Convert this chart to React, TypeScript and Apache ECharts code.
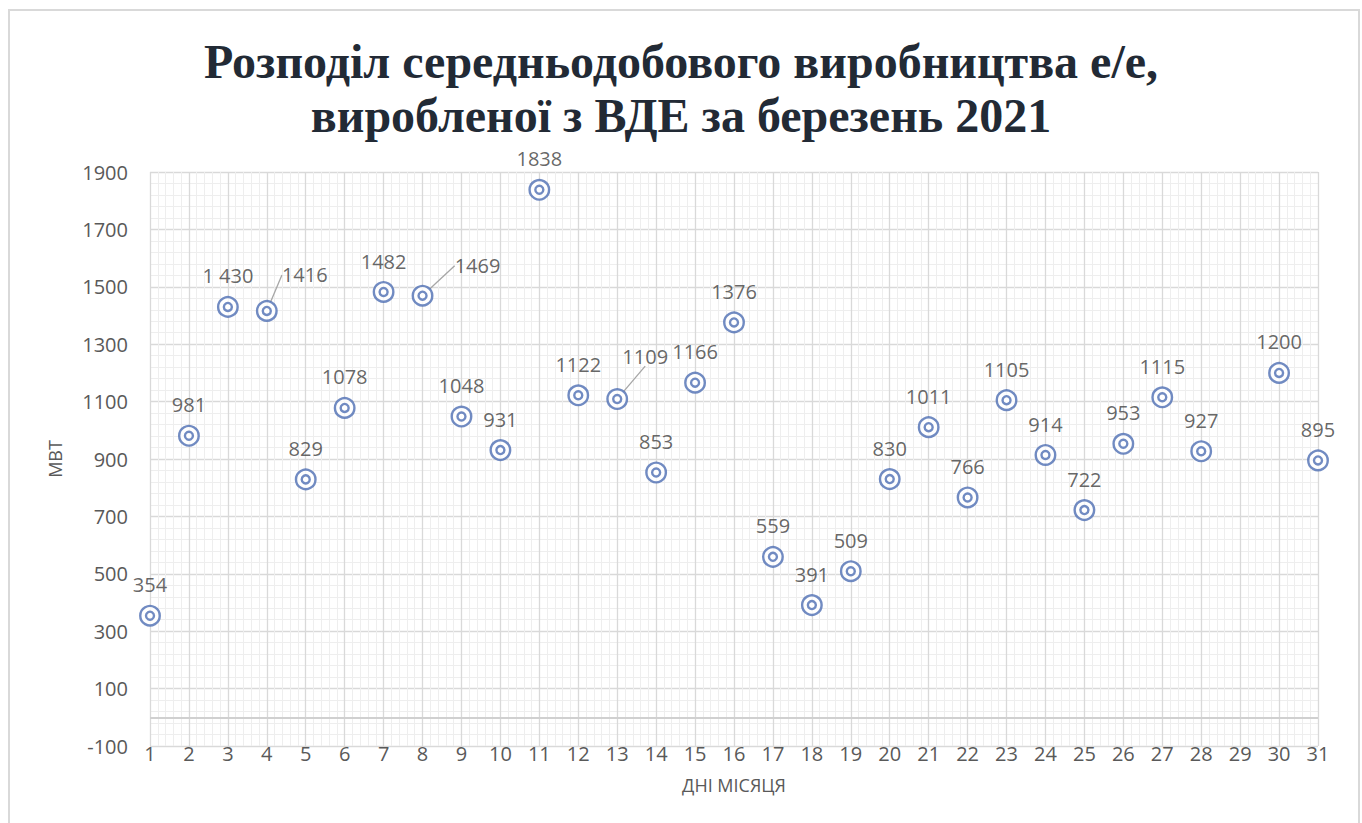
import React, { useEffect, useRef } from "react";
import * as echarts from "echarts";

const days = [1, 2, 3, 4, 5, 6, 7, 8, 9, 10, 11, 12, 13, 14, 15, 16, 17, 18, 19, 20, 21, 22, 23, 24, 25, 26, 27, 28, 30, 31];
const values = [354, 981, 1430, 1416, 829, 1078, 1482, 1469, 1048, 931, 1838, 1122, 1109, 853, 1166, 1376, 559, 391, 509, 830, 1011, 766, 1105, 914, 722, 953, 1115, 927, 1200, 895];
const labelTexts = ["354", "981", "1 430", "1416", "829", "1078", "1482", "1469", "1048", "931", "1838", "1122", "1109", "853", "1166", "1376", "559", "391", "509", "830", "1011", "766", "1105", "914", "722", "953", "1115", "927", "1200", "895"];
const titleText = "Розподіл середньодобового виробництва е/е,\nвиробленої з ВДЕ за березень 2021";
const xName = "ДНІ МІСЯЦЯ";
const yName = "МВТ";
const xMin = 1, xMax = 31, yMin = -100, yMax = 1900, yStep = 200;

const BLUE = "#4D6EB3";
const FONT = "'Open Sans', sans-serif";

export default function App() {
  const ref = useRef<HTMLDivElement>(null);
  useEffect(() => {
    if (!ref.current) return;
    const chart = echarts.init(ref.current, null, { renderer: "svg" });
    const moved: Record<number, { dx: number; dy: number }> = {
      3: { dx: 38, dy: -5 },
      7: { dx: 55, dy: 1 },
      12: { dx: 28, dy: -12 },
    };
    const data = days.map((d, i) =>
      moved[i]
        ? { value: [d, values[i]], labelLine: { show: true } }
        : { value: [d, values[i]] }
    );
    const plain = days.map((d, i) => [d, values[i]]);
    chart.setOption({
      animation: false,
      backgroundColor: "#ffffff",
      title: {
        text: titleText,
        left: "center",
        top: 29,
        textStyle: {
          fontFamily: "'Liberation Serif', serif",
          fontWeight: "bold",
          fontSize: 48,
          lineHeight: 54,
          color: "#222A35",
        },
      },
      graphic: [
        {
          type: "rect",
          shape: { x: 9, y: 10, width: 1350, height: 830 },
          style: { fill: "none", stroke: "#D9D9D9", lineWidth: 2 },
          silent: true,
        },
      ],
      grid: { left: 150, right: 44, top: 172, bottom: 77 },
      xAxis: {
        type: "value",
        min: xMin,
        max: xMax,
        interval: 1,
        name: xName,
        nameLocation: "middle",
        nameGap: 30,
        nameTextStyle: { fontFamily: FONT, fontSize: 18, color: "#595959" },
        axisLine: { show: false, onZero: false },
        axisTick: { show: false },
        axisLabel: { fontFamily: FONT, fontSize: 20, color: "#595959", margin: -3 },
        splitLine: { show: true, lineStyle: { color: "#D9D9D9", width: 1.3 } },
        minorTick: { show: false, splitNumber: 5 },
        minorSplitLine: { show: true, lineStyle: { color: "#EEEEEE", width: 1 } },
      },
      yAxis: {
        type: "value",
        min: yMin,
        max: yMax,
        interval: yStep,
        name: yName,
        nameLocation: "middle",
        nameGap: 86,
        nameTextStyle: { fontFamily: FONT, fontSize: 18, color: "#595959" },
        axisLine: { show: false },
        axisTick: { show: false },
        axisLabel: {
          fontFamily: FONT,
          fontSize: 20,
          color: "#595959",
          margin: 22,
          formatter: (v: number) => String(v),
        },
        splitLine: { show: true, lineStyle: { color: "#D9D9D9", width: 1.3 } },
        minorTick: { show: false, splitNumber: 5 },
        minorSplitLine: { show: true, lineStyle: { color: "#EEEEEE", width: 1 } },
      },
      series: [
        {
          type: "scatter",
          data,
          symbol: "circle",
          symbolSize: 19.5,
          itemStyle: { color: "#ffffff", borderColor: BLUE, borderWidth: 2.4 },
          label: {
            show: true,
            position: "top",
            distance: 10,
            fontFamily: FONT,
            fontSize: 20,
            color: "#404040",
            formatter: (p: any) => labelTexts[p.dataIndex],
          },
          labelLine: { show: false, lineStyle: { color: "#A6A6A6", width: 1.3 } },
          labelLayout: (p: any) => {
            const m = moved[p.dataIndex];
            return m ? { dx: m.dx, dy: m.dy } : {};
          },
          markLine: {
            silent: true,
            symbol: "none",
            label: { show: false },
            lineStyle: { color: "#D0D0D0", width: 2, type: "solid" },
            data: [{ yAxis: 0 }],
          },
          z: 3,
        },
        {
          type: "scatter",
          data: plain,
          symbol: "circle",
          symbolSize: 8,
          itemStyle: { color: "#ffffff", borderColor: BLUE, borderWidth: 2.4 },
          z: 4,
        },
      ],
    });
    return () => chart.dispose();
  }, []);
  return (
    <div
      ref={ref}
      style={{ position: "absolute", left: 0, top: 0, width: 1362, height: 823 }}
    />
  );
}
